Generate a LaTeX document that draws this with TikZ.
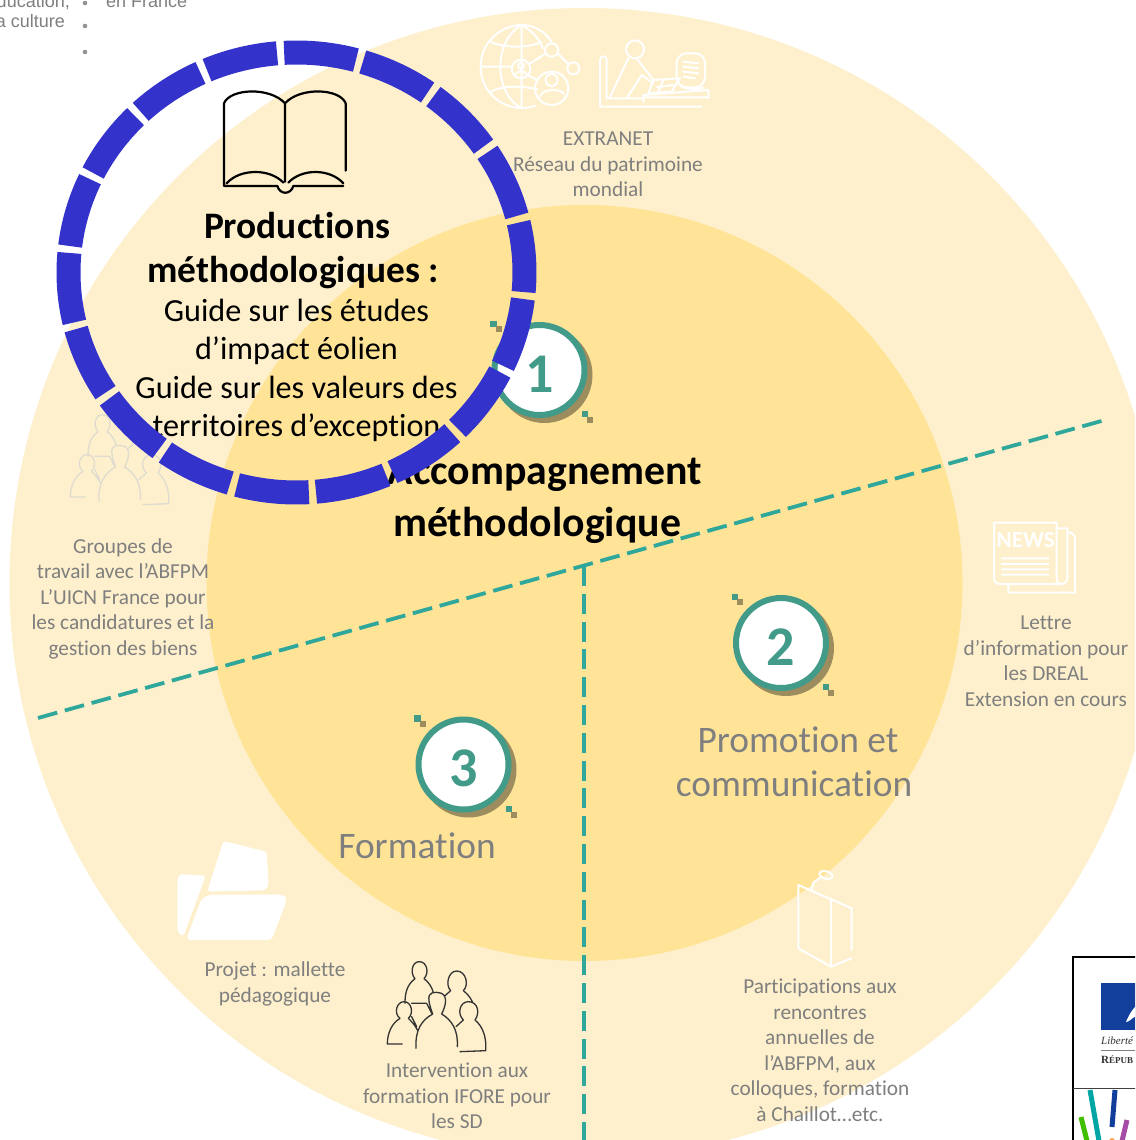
\documentclass[tikz,border=0pt]{standalone}
\usepackage{fontspec}
\setmainfont{Carlito}[Ligatures=NoCommon]
\newfontfamily\arialf{Liberation Sans}
\newfontfamily\timesf{Liberation Serif}
\definecolor{outerc}{HTML}{FEF0CC}
\definecolor{innerc}{HTML}{FFE498}
\definecolor{greytxt}{HTML}{7F7F7F}
\definecolor{ringblue}{HTML}{3333CC}
\definecolor{tealdash}{HTML}{2FA89B}
\definecolor{badgeteal}{HTML}{429A89}
\definecolor{badgeshadow}{HTML}{9C8C5E}
\definecolor{palepeople}{HTML}{DFDCCF}
\definecolor{logoblue}{HTML}{123F9C}
\tikzset{
  smalltxt/.style={text=greytxt,align=center,inner sep=0pt,font=\fontsize{21.3}{25.5}\selectfont},
  bigtxt/.style={text=greytxt,align=center,inner sep=0pt,font=\fontsize{37.4}{44}\selectfont},
  titletxt/.style={text=black,align=center,inner sep=0pt,font=\bfseries\fontsize{37.4}{44}\selectfont},
  bodytxt/.style={text=black,align=center,inner sep=0pt,font=\fontsize{32.2}{38.5}\selectfont},
  acctxt/.style={text=black,inner sep=0pt,font=\bfseries\fontsize{41.8}{48}\selectfont},
  cornertxt/.style={text=greytxt,inner sep=0pt,font=\arialf\fontsize{18}{22}\selectfont},
  divider/.style={draw=tealdash,line width=3.8pt,dash pattern=on 20pt off 7.8pt},
  iconline/.style={draw=white,line width=2pt,line cap=round,line join=round},
  zoomed/.style={x=0.33333pt,y=-0.33333pt},
  badgecirc/.style={circle,draw=badgeteal,fill=white,line width=6pt,minimum size=90pt,inner sep=0pt},
  badgenum/.style={inner sep=0pt,text=badgeteal,font=\bfseries\fontsize{56}{56}\selectfont}
}
\newcommand{\mybadge}[4]{%
  \begin{scope}[shift={(#2,#3)}]
    \fill[badgeshadow] (5,5) circle[radius=48pt];
    \fill[badgeteal] (-49.5,-49.5) rectangle (-43,-43);
    \fill[badgeshadow] (-44,-44) rectangle (-38,-38);
    \fill[badgeteal] (42,41) rectangle (48,47);
    \fill[badgeshadow] (47,47) rectangle (53,53);
    \node[badgecirc] (#1) at (0,0) {};
    \node[badgenum] (#1n) at (0,4) {#4};
  \end{scope}}
\newcommand{\peopleicon}[3]{%
  \begin{scope}[shift={(#1,#2)},zoomed]
    \draw[draw=#3,line width=1.3pt,line cap=round,line join=round]
      (795,446) .. controls (780,430) and (785,395) .. (808,395) .. controls (832,395) and (838,430) .. (822,446)
      (795,446) .. controls (770,465) and (765,490) .. (765,520)
      (822,446) .. controls (835,455) and (845,470) .. (850,487)
      (785,520) -- (830,520)
      (902,482) .. controls (885,465) and (895,423) .. (920,423) .. controls (948,423) and (958,465) .. (940,482)
      (902,482) -- (885,497)
      (940,482) .. controls (950,490) and (960,500) .. (967,515)
      (848,552) .. controls (825,490) and (840,487) .. (860,487) .. controls (880,487) and (900,500) .. (875,552)
      (848,552) .. controls (815,570) and (795,600) .. (798,655)
      (875,552) .. controls (905,570) and (925,600) .. (922,650)
      (750,565) .. controls (730,550) and (740,515) .. (762,515) .. controls (785,515) and (792,550) .. (775,565)
      (750,565) .. controls (725,580) and (712,610) .. (712,642) -- (757,642)
      (775,565) .. controls (785,575) and (795,585) .. (802,600)
      (940,570) .. controls (920,550) and (930,515) .. (955,515) .. controls (985,515) and (990,550) .. (975,570)
      (940,570) -- (918,590)
      (975,570) .. controls (1000,590) and (1010,625) .. (1007,662) -- (930,665)
      (830,520) -- (845,550) (785,560) -- (800,590);
  \end{scope}}
\begin{document}
\begin{tikzpicture}[x=1pt,y=-1pt]
\useasboundingbox (0,0) rectangle (1135,1140);
\clip (0,0) rectangle (1135,1140);
\fill[white] (0,0) rectangle (1135,1140);
% concentric discs
\fill[outerc] (584.5,583) circle[radius=575pt];
\fill[innerc] (584.5,583) circle[radius=378pt];
% dividers
\coordinate (dl) at (38,718);
\coordinate (dr) at (1105,420);
\coordinate (dm) at (584,566);
\coordinate (db) at (584,1142);
\draw[divider] (dl) -- (dr);
\draw[divider] (dm) -- (db);
% corner text
\node[cornertxt,anchor=east] (c1) at (70,2) {ducation,};
\node[cornertxt,anchor=east] (c2) at (65,21) {a culture};
\node[cornertxt,anchor=west] (c3) at (106,1) {en France};
\fill[greytxt!85] (85,3) circle[radius=2.3pt] (85,26) circle[radius=2.3pt] (85,52) circle[radius=2.3pt];
% badges
\mybadge{b1}{539.5}{370}{1}
\mybadge{b2}{781}{643}{2}
\mybadge{b3}{463.5}{764.5}{3}
% book
\begin{scope}[zoomed]
\draw[black,line width=2.2pt,line join=round,line cap=round]
  (672,558) -- (672,310) .. controls (690,265) and (810,260) .. (855,310)
  .. controls (900,260) and (1020,265) .. (1037,310) -- (1037,512)
  (855,310) -- (855,545)
  (675,558) -- (832,558) .. controls (840,585) and (872,585) .. (880,558) -- (1030,558)
  (680,550) .. controls (720,505) and (810,505) .. (850,548)
  (865,548) .. controls (905,505) and (990,505) .. (1030,550);
\end{scope}
% globe
\begin{scope}[shift={(450,0)},zoomed]
\draw[iconline]
  (255,318) .. controls (170,345) and (90,280) .. (92,200) .. controls (92,120) and (160,75) .. (215,75) .. controls (250,75) and (280,90) .. (305,125)
  (215,75) -- (215,325)
  (215,75) .. controls (130,120) and (130,280) .. (215,325)
  (215,75) .. controls (250,95) and (270,120) .. (278,145)
  (92,200) -- (185,200)
  (122,125) .. controls (160,145) and (240,145) .. (275,125)
  (122,275) .. controls (160,255) and (220,258) .. (262,268)
  (240,190) -- (285,162) (325,162) -- (355,192) (232,225) -- (262,240);
\draw[iconline] (213,207) circle[radius=28] (305,150) circle[radius=20] (370,205) circle[radius=18] (305,265) circle[radius=50];
\draw[iconline] (305,240) circle[radius=18] (270,290) .. controls (275,265) and (335,265) .. (342,282);
\draw[iconline] (213,197) circle[radius=9] (195,225) .. controls (200,210) and (225,210) .. (232,225);
% desk person
\draw[iconline] (555,148) circle[radius=27];
\draw[iconline]
  (535,175) -- (478,295) (560,175) -- (610,240) (575,225) -- (530,295) (575,225) -- (610,250)
  (450,320) -- (450,180) .. controls (450,165) and (470,165) .. (470,180) -- (470,295) -- (575,295)
  (450,320) -- (755,320)
  (580,305) -- (580,285) -- (775,270) (775,270) -- (775,295) (580,292) -- (775,292)
  (610,240) -- (690,235) -- (665,275) -- (595,280) -- cycle
  (620,262) -- (670,255) (640,240) -- (625,275);
\draw[iconline,rounded corners=10] (680,160) rectangle (765,262);
\draw[iconline] (700,185) -- (745,190) (700,200) -- (745,205) (700,215) -- (745,220) (700,230) -- (735,235)
  (690,255) .. controls (700,270) and (745,270) .. (760,262);
\end{scope}
% news
\begin{scope}[shift={(770,500)},zoomed]
\draw[iconline]
  (860,68) -- (672,68) -- (672,235) .. controls (672,245) and (680,252) .. (690,252) -- (870,252) .. controls (882,252) and (892,245) .. (892,235) -- (892,85) -- (862,85)
  (860,68) -- (860,235) .. controls (860,245) and (865,252) .. (870,252)
  (895,97) .. controls (908,97) and (915,105) .. (915,118) -- (915,278) -- (715,278) -- (715,254)
  (695,175) -- (835,175) (695,192) -- (835,192) (695,208) -- (835,208) (695,224) -- (835,224);
\node[text=white,inner sep=0pt,font=\bfseries\fontsize{23}{23}\selectfont] (newsw) at (767,120) {NEWS};
% lectern
\draw[iconline]
  (85,1155) -- (85,1345) -- (183,1400) -- (245,1375)
  (85,1155) -- (245,1225) -- (245,1350)
  (183,1195) -- (183,1400)
  (125,1168) -- (130,1148) -- (152,1132);
\draw[iconline] (168,1125) ellipse[x radius=20,y radius=11,rotate=-15];
\end{scope}
% folder
\begin{scope}[shift={(150,830)},zoomed]
\fill[white,rounded corners=3pt] (220,33) -- (350,65) -- (356,165) -- (345,181) -- (172,185) -- cycle;
\fill[white,rounded corners=3pt] (82,150) -- (88,132) -- (167,137) -- (100,320) -- (82,305) -- cycle;
\fill[white,rounded corners=4pt] (180,194) -- (400,194) -- (411,208) -- (365,330) -- (108,330) -- (155,205) -- cycle;
\end{scope}
% people icons
\peopleicon{150}{830}{black!80}
\peopleicon{-167}{283}{palepeople}
% small labels
\node[smalltxt] (extranet) at (608,164.5) {EXTRANET\\Réseau du patrimoine\\mondial};
\node[smalltxt] (groupes) at (123,598.5) {Groupes de\\travail avec l’ABFPM\\L’UICN France pour\\les candidatures et la\\gestion des biens};
\node[smalltxt] (lettre) at (1046,661) {Lettre\\d’information pour\\les DREAL\\Extension en cours};
\node[smalltxt] (particip) at (820,1050) {Participations aux\\rencontres\\annuelles de\\l’ABFPM, aux\\colloques, formation\\à Chaillot…etc.};
\node[smalltxt] (projet) at (275,984) {Projet : mallette\\pédagogique};
\node[smalltxt] (interv) at (457,1096) {Intervention aux\\formation IFORE pour\\les SD};
% big labels
\node[bigtxt] (promo1) at (798,740) {Promotion et};
\node[bigtxt] (promo2) at (794,784) {communication};
\node[bigtxt] (forma) at (417,846) {Formation};
\node[acctxt] (acc1) at (545,474) {Accompagnement};
\node[acctxt] (acc2) at (537,525) {méthodologique};
% productions
\node[titletxt] (prod) at (293,251) {\hspace*{8pt}Productions\\méthodologiques :};
\node[bodytxt] (guides) at (296.5,370.5) {Guide sur les études\\d’impact éolien\\Guide sur les valeurs des\\territoires d’exception};
% logo
\fill[white] (1073,957) rectangle (1136,1141);
\draw[black,line width=1.3pt] (1136,957) -- (1073,957) -- (1073,1141);
\draw[black!75,line width=1pt] (1073,1088) -- (1136,1088);
\fill[logoblue] (1101,983) rectangle (1136,1030);
\fill[white] (1126,1022) .. controls (1130,1012) and (1134,1008) .. (1136,1006) -- (1136,1016) .. controls (1132,1018) and (1129,1022) .. (1126,1022) -- cycle;
\node[anchor=west,inner sep=0pt,text=black!80,font=\timesf\itshape\fontsize{11}{11}\selectfont] (lib) at (1101,1041) {Liberté};
\draw[black!50,line width=0.5pt] (1101,1050) -- (1136,1050);
\node[anchor=west,inner sep=0pt,text=black!80,font=\timesf\bfseries\fontsize{11}{11}\selectfont] (rep) at (1101,1060) {R\fontsize{9}{9}\selectfont ÉPUB};
\draw[line width=5pt,draw=teal!70!cyan] (1090,1090) -- (1099,1141);
\draw[line width=5pt,draw=logoblue] (1115,1090) -- (1112,1127);
\draw[line width=5pt,draw=green!50!olive] (1081,1117) -- (1087,1141);
\draw[line width=5pt,draw=violet!70] (1127,1120) -- (1122,1141);
\fill[orange!70] (1112,1141) circle[radius=3pt];
% segmented ring
\foreach \k in {0,...,17}{
  \pgfmathsetmacro{\sa}{94-20*\k-0.9}
  \pgfmathsetmacro{\ea}{94-20*(\k+1)+0.9}
  \draw[ringblue,line width=24pt] ({296.5+228*cos(\sa)},{272.5-220*sin(\sa)}) arc[start angle=\sa,end angle=\ea,x radius=228pt,y radius=220pt];
}
\end{tikzpicture}
\end{document}
